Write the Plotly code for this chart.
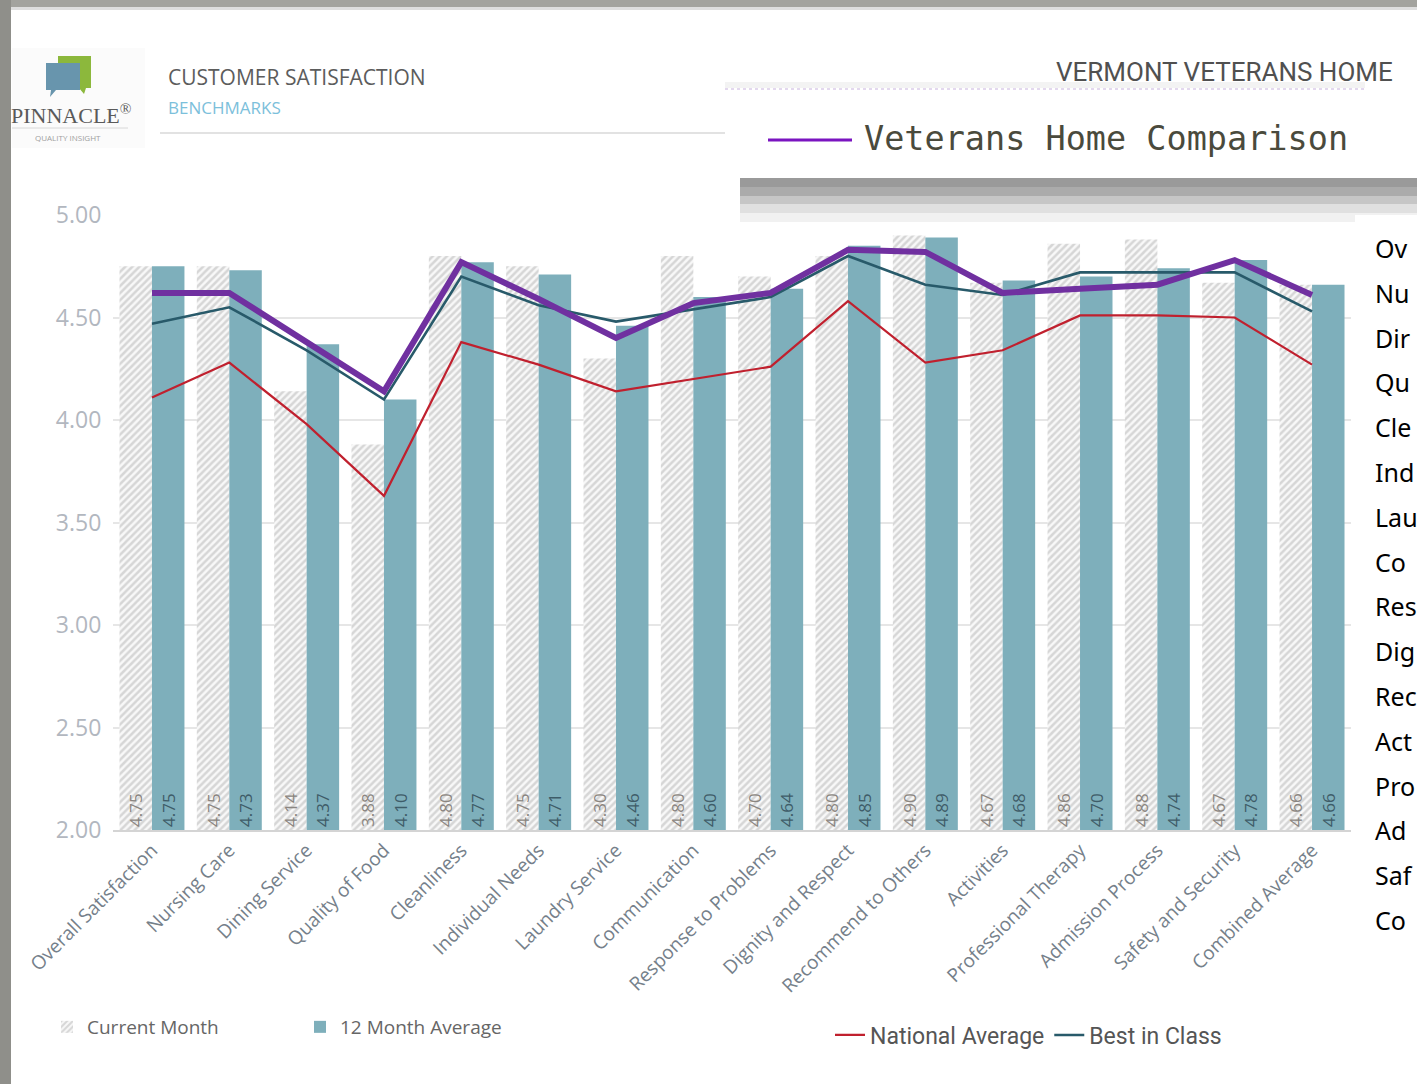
import plotly.graph_objects as go

# ---------------- data ----------------
categories = ["Overall Satisfaction", "Nursing Care", "Dining Service", "Quality of Food",
              "Cleanliness", "Individual Needs", "Laundry Service", "Communication",
              "Response to Problems", "Dignity and Respect", "Recommend to Others",
              "Activities", "Professional Therapy", "Admission Process",
              "Safety and Security", "Combined Average"]
current_month = [4.75, 4.75, 4.14, 3.88, 4.80, 4.75, 4.30, 4.80, 4.70, 4.80, 4.90, 4.67, 4.86, 4.88, 4.67, 4.66]
twelve_month = [4.75, 4.73, 4.37, 4.10, 4.77, 4.71, 4.46, 4.60, 4.64, 4.85, 4.89, 4.68, 4.70, 4.74, 4.78, 4.66]
national_avg = [4.11, 4.28, 3.98, 3.63, 4.38, 4.27, 4.14, 4.20, 4.26, 4.58, 4.28, 4.34, 4.51, 4.51, 4.50, 4.27]
best_in_class = [4.47, 4.55, 4.34, 4.10, 4.70, 4.56, 4.48, 4.54, 4.60, 4.80, 4.66, 4.61, 4.72, 4.72, 4.72, 4.53]
veterans_home = [4.62, 4.62, 4.38, 4.14, 4.77, 4.59, 4.40, 4.57, 4.62, 4.83, 4.82, 4.62, 4.64, 4.66, 4.78, 4.61]
y_ticks = [2.0, 2.5, 3.0, 3.5, 4.0, 4.5, 5.0]
y_tick_labels = ["2.00", "2.50", "3.00", "3.50", "4.00", "4.50", "5.00"]
side_text = ["Ov", "Nu", "Dir", "Qu", "Cle", "Ind", "Lau", "Co", "Res", "Dig", "Rec",
             "Act", "Pro", "Ad", "Saf", "Co"]
AXIS_BASE = 2.0

W, H = 1417, 1084
def X(px):
    return px / W
def Y(py):
    return 1 - py / H

FONT = "Open Sans, Lato, sans-serif"
NARROW = "Roboto, sans-serif"

fig = go.Figure()

fig.add_trace(go.Bar(
    name="Current Month", x=categories,
    y=[v - AXIS_BASE for v in current_month], base=AXIS_BASE,
    text=[f"{v:.2f}" for v in current_month], texttemplate="%{text}",
    textposition="inside", insidetextanchor="start", textangle=-90,
    constraintext="none",
    textfont=dict(size=17, color="#8a8580", family=FONT),
    marker=dict(color="#f6f6f6", line=dict(width=0),
                pattern=dict(shape="/", fgcolor="#b4b4b4", bgcolor="#f8f8f8",
                             size=5, solidity=0.5)),
    legend="legend", hoverinfo="skip",
))
fig.add_trace(go.Bar(
    name="12 Month Average", x=categories,
    y=[v - AXIS_BASE for v in twelve_month], base=AXIS_BASE,
    text=[f"{v:.2f}" for v in twelve_month], texttemplate="%{text}",
    textposition="inside", insidetextanchor="start", textangle=-90,
    constraintext="none",
    textfont=dict(size=17, color="#3e5c68", family=FONT),
    marker=dict(color="#7eafbb", line=dict(width=0)),
    legend="legend", hoverinfo="skip",
))
fig.add_trace(go.Scatter(
    name="National Average", x=categories, y=national_avg, mode="lines",
    line=dict(color="#c0202e", width=2.2), legend="legend2",
))
fig.add_trace(go.Scatter(
    name="Best in Class", x=categories, y=best_in_class, mode="lines",
    line=dict(color="#285a6a", width=2.6), legend="legend2",
))
fig.add_trace(go.Scatter(
    name="Veterans Home Comparison", x=categories, y=veterans_home, mode="lines",
    line=dict(color="#7030a0", width=6), showlegend=False,
))

shapes = []
annotations = []

# textured gray page border (top / left)
shapes.append(dict(type="rect", xref="paper", yref="paper", x0=0, x1=1, y0=Y(7), y1=1,
                   fillcolor="#a3a39e", line=dict(width=0), layer="below"))
shapes.append(dict(type="rect", xref="paper", yref="paper", x0=0, x1=X(11), y0=0, y1=1,
                   fillcolor="#8f8f8a", line=dict(width=0), layer="below"))
shapes.append(dict(type="rect", xref="paper", yref="paper", x0=X(11), x1=1, y0=Y(10), y1=Y(7),
                   fillcolor="#dedede", line=dict(width=0), layer="below"))

# header separator line
shapes.append(dict(type="line", xref="paper", yref="paper", x0=X(160), x1=1, y0=Y(133), y1=Y(133),
                   line=dict(color="#e2e2e2", width=2), layer="below"))

# logo
shapes.append(dict(type="rect", xref="paper", yref="paper", x0=X(12), x1=X(145), y0=Y(148), y1=Y(48),
                   fillcolor="#fbfbfb", line=dict(width=0), layer="below"))
shapes.append(dict(type="path", xref="paper", yref="paper",
                   path=f"M{X(58)},{Y(56)} L{X(91)},{Y(56)} L{X(91)},{Y(88)} L{X(86)},{Y(88)} L{X(84)},{Y(94)} L{X(79)},{Y(88)} L{X(58)},{Y(88)} Z",
                   fillcolor="#8cb83c", line=dict(width=0), layer="above"))
shapes.append(dict(type="path", xref="paper", yref="paper",
                   path=f"M{X(46)},{Y(63)} L{X(80)},{Y(63)} L{X(80)},{Y(90)} L{X(56)},{Y(90)} L{X(50)},{Y(97)} L{X(51)},{Y(90)} L{X(46)},{Y(90)} Z",
                   fillcolor="#6895ad", line=dict(width=0), layer="above"))
shapes.append(dict(type="line", xref="paper", yref="paper", x0=X(12), x1=X(128), y0=Y(128), y1=Y(128),
                   line=dict(color="#d8d8d8", width=1), layer="above"))
annotations.append(dict(text="PINNACLE<sup>®</sup>", xref="paper", yref="paper", x=X(9), y=Y(114),
                        xanchor="left", yanchor="middle", showarrow=False,
                        font=dict(family="Liberation Serif, serif", size=22, color="#5a5a5a")))
annotations.append(dict(text="QUALITY INSIGHT", xref="paper", yref="paper", x=X(68), y=Y(138),
                        xanchor="center", yanchor="middle", showarrow=False,
                        font=dict(family=FONT, size=8, color="#a0a0a0")))

# header texts
annotations.append(dict(text="CUSTOMER SATISFACTION", xref="paper", yref="paper", x=X(166), y=Y(77),
                        xanchor="left", yanchor="middle", showarrow=False,
                        font=dict(family=FONT, size=21, color="#5c5c5c")))
annotations.append(dict(text="BENCHMARKS", xref="paper", yref="paper", x=X(166), y=Y(108),
                        xanchor="left", yanchor="middle", showarrow=False,
                        font=dict(family=FONT, size=17, color="#7cc0db")))
annotations.append(dict(text="VERMONT VETERANS HOME", xref="paper", yref="paper", x=X(1395), y=Y(72),
                        xanchor="right", yanchor="middle", showarrow=False,
                        font=dict(family=NARROW, size=26, color="#505050")))

# floating "Veterans Home Comparison" legend box with shadow
for y0, y1, col in [(178, 187, "#9a9a9a"), (187, 196, "#ababab"), (196, 204, "#c6c6c6"),
                    (204, 213, "#e0e0e0"), (213, 222, "#f1f1f1")]:
    shapes.append(dict(type="rect", xref="paper", yref="paper", x0=X(740), x1=1, y0=Y(y1), y1=Y(y0),
                       fillcolor=col, line=dict(width=0), layer="above"))
shapes.append(dict(type="rect", xref="paper", yref="paper", x0=X(725), x1=X(1365), y0=Y(88), y1=Y(82),
                   fillcolor="#f3f3f3", line=dict(width=0), layer="above"))
shapes.append(dict(type="rect", xref="paper", yref="paper", x0=X(725), x1=1, y0=Y(178), y1=Y(88),
                   fillcolor="#ffffff", line=dict(width=0), layer="above"))
shapes.append(dict(type="line", xref="paper", yref="paper", x0=X(725), x1=X(1365), y0=Y(89), y1=Y(89),
                   line=dict(color="#e3d8ee", width=2, dash="dot"), layer="above"))
shapes.append(dict(type="line", xref="paper", yref="paper", x0=X(768), x1=X(852), y0=Y(140), y1=Y(140),
                   line=dict(color="#7a14c0", width=3), layer="above"))
annotations.append(dict(text="Veterans Home Comparison", xref="paper", yref="paper", x=X(862), y=Y(139),
                        xanchor="left", yanchor="middle", showarrow=False,
                        font=dict(family="DejaVu Sans Mono, monospace", size=33.5, color="#4a4a3c")))

# right-hand white text column
shapes.append(dict(type="rect", xref="paper", yref="paper", x0=X(1355), x1=1, y0=0, y1=Y(215),
                   fillcolor="#ffffff", line=dict(width=0), layer="above"))
for i, t in enumerate(side_text):
    annotations.append(dict(text=t, xref="paper", yref="paper", x=X(1373), y=Y(248 + i * 44.8),
                            xanchor="left", yanchor="middle", showarrow=False,
                            font=dict(family="Noto Sans, sans-serif", size=25, color="#000000")))

fig.update_layout(
    width=W, height=H, autosize=False,
    margin=dict(l=0, r=0, t=0, b=0),
    paper_bgcolor="#ffffff", plot_bgcolor="#ffffff",
    barmode="group", bargap=0.16, bargroupgap=0.0,
    font=dict(family=FONT, color="#666666"),
    shapes=shapes, annotations=annotations,
    xaxis=dict(domain=[X(113.3), X(1350.7)], type="category", range=[-0.5, 15.5],
               tickangle=-45, tickfont=dict(family=FONT, size=19, color="#75808a"),
               showline=True, linecolor="#d4d4d4", linewidth=1.5, ticks="",
               showgrid=False, automargin=False, fixedrange=True),
    yaxis=dict(domain=[Y(830), Y(215)], range=[2.0, 5.0], tickvals=y_ticks,
               ticktext=y_tick_labels, tickfont=dict(family=FONT, size=23, color="#b2b7bf"),
               showgrid=True, gridcolor="#e6e6e6", gridwidth=1.5, zeroline=False,
               ticks="", ticklabelstandoff=11, automargin=False, fixedrange=True),
    legend=dict(orientation="h", x=X(47), y=Y(1027), xanchor="left", yanchor="middle",
                entrywidth=208, entrywidthmode="pixels", bgcolor="rgba(0,0,0,0)",
                font=dict(family=FONT, size=19, color="#666666"), itemclick=False),
    legend2=dict(orientation="h", x=X(830), y=Y(1035), xanchor="left", yanchor="middle",
                 bgcolor="rgba(0,0,0,0)",
                 font=dict(family=NARROW, size=23, color="#555555"), itemclick=False),
    showlegend=True,
)

fig.write_html("out.html", config={"displayModeBar": False},
               post_script="document.body.style.margin='0';document.body.style.overflow='hidden';")
